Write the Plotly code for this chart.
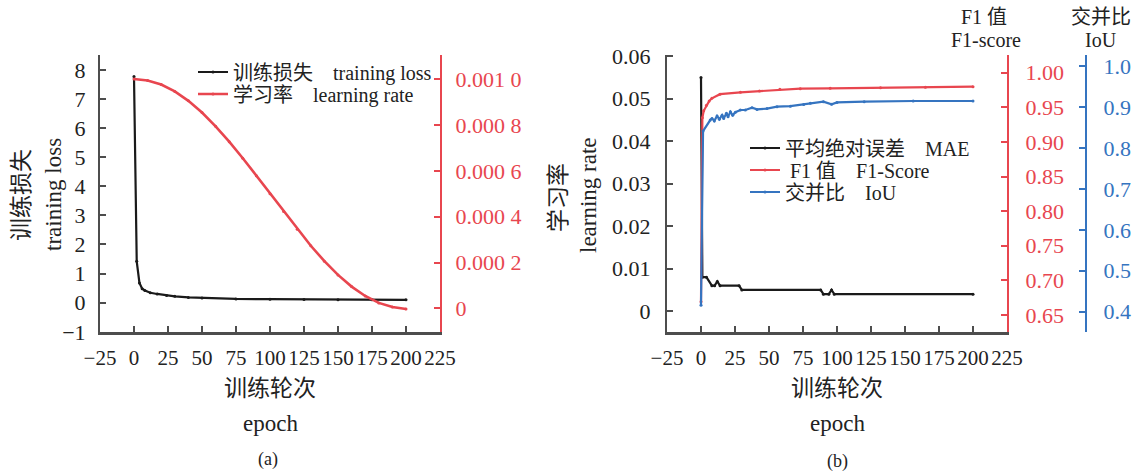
import plotly.graph_objects as go

# ---------------- data (a) ----------------
loss_epoch = [0, 2, 4, 6, 8, 12, 17, 24, 30, 40, 50, 75, 100, 125, 150, 175, 200]
loss_value = [7.77, 1.42, 0.68, 0.48, 0.42, 0.34, 0.30, 0.25, 0.22, 0.18, 0.16, 0.13, 0.12, 0.11, 0.105, 0.10, 0.10]

lr_epoch = [0, 10, 20, 30, 40, 50, 60, 70, 80, 90, 100, 110, 120, 130, 140, 150, 160, 170, 180, 190, 200]
lr_value = [0.001, 0.000994, 0.000976, 0.000946, 0.000905, 0.000854, 0.000794, 0.000727, 0.000655,
            0.000578, 0.0005, 0.000422, 0.000345, 0.000273, 0.000206, 0.000146, 0.000095, 0.000054,
            0.000024, 0.000006, -0.000003]

# ---------------- data (b) ----------------
mae_epoch = [0, 1, 4, 8, 10, 12, 14, 28, 30, 88, 90, 94, 96, 98, 200]
mae_value = [0.055, 0.008, 0.008, 0.006, 0.006, 0.007, 0.006, 0.006, 0.005, 0.005, 0.004, 0.004, 0.005, 0.004, 0.004]

f1_epoch = [0, 1, 2, 4, 6, 8, 14, 29, 43, 58, 73, 95, 132, 165, 200]
f1_value = [0.669, 0.935, 0.945, 0.953, 0.959, 0.963, 0.969, 0.9717, 0.9736, 0.976, 0.977, 0.9775, 0.9783, 0.979, 0.9798]

iou_epoch = [0, 1.5, 6.8, 8.1, 9.8, 11.8, 13.5, 15.5, 16.7, 18.7, 19.9, 21.6, 23.3, 25.3, 28.9, 32.6,
             37.5, 41.2, 48.5, 55.9, 65.7, 75.5, 80.4, 90, 96, 100, 120, 156, 200]
iou_value = [0.416, 0.841, 0.868, 0.872, 0.866, 0.878, 0.870, 0.880, 0.872, 0.8845, 0.876, 0.888, 0.880,
             0.887, 0.8926, 0.8926, 0.898, 0.894, 0.896, 0.9007, 0.902, 0.906, 0.909, 0.9128, 0.9065,
             0.911, 0.9128, 0.9145, 0.9145]

x_ticks = [-25, 0, 25, 50, 75, 100, 125, 150, 175, 200, 225]
loss_ticks = [-1, 0, 1, 2, 3, 4, 5, 6, 7, 8]
lr_ticks = [0, 0.0002, 0.0004, 0.0006, 0.0008, 0.001]
lr_ticktext = ["0", "0.000\u00a02", "0.000\u00a04", "0.000\u00a06", "0.000\u00a08", "0.001\u00a00"]
mae_ticks = [0, 0.01, 0.02, 0.03, 0.04, 0.05, 0.06]
mae_ticktext = ["0", "0.01", "0.02", "0.03", "0.04", "0.05", "0.06"]
f1_ticks = [0.65, 0.70, 0.75, 0.80, 0.85, 0.90, 0.95, 1.00]
f1_ticktext = ["0.65", "0.70", "0.75", "0.80", "0.85", "0.90", "0.95", "1.00"]
iou_ticks = [0.4, 0.5, 0.6, 0.7, 0.8, 0.9, 1.0]
iou_ticktext = ["0.4", "0.5", "0.6", "0.7", "0.8", "0.9", "1.0"]

# ---------------- style ----------------
W, H = 1136, 471
FONT = "Liberation Serif, Noto Sans CJK SC, serif"
BLACK = "#1a1a1a"
TXT = "#222222"
AXC = "#4d4d4d"
RED = "#e8464f"
BLUE = "#3574c0"
SP = "\u00a0\u00a0\u00a0\u00a0"
TS = 22


def px(x):
    return x / W


def py(y):
    return 1 - y / H


ydom = [py(332), py(55)]

fig = go.Figure()

fig.add_trace(go.Scatter(x=loss_epoch, y=loss_value, mode="lines+markers",
                         name="训练损失" + SP + "training loss",
                         line=dict(color=BLACK, width=2.2), marker=dict(size=3, color=BLACK),
                         xaxis="x", yaxis="y", legend="legend"))
fig.add_trace(go.Scatter(x=lr_epoch, y=lr_value, mode="lines+markers",
                         name="学习率" + SP + "learning rate",
                         line=dict(color=RED, width=2.6), marker=dict(size=3, color=RED),
                         xaxis="x", yaxis="y2", legend="legend2"))

fig.add_trace(go.Scatter(x=mae_epoch, y=mae_value, mode="lines+markers",
                         name="平均绝对误差" + SP + "MAE",
                         line=dict(color=BLACK, width=2.2), marker=dict(size=3, color=BLACK),
                         xaxis="x2", yaxis="y3", legend="legend3"))
fig.add_trace(go.Scatter(x=f1_epoch, y=f1_value, mode="lines+markers",
                         name="\u00a0F1 值" + SP + "F1-Score",
                         line=dict(color=RED, width=2.2), marker=dict(size=3, color=RED),
                         xaxis="x2", yaxis="y4", legend="legend4"))
fig.add_trace(go.Scatter(x=iou_epoch, y=iou_value, mode="lines+markers",
                         name="交并比" + SP + "IoU",
                         line=dict(color=BLUE, width=2.2), marker=dict(size=3, color=BLUE),
                         xaxis="x2", yaxis="y5", legend="legend5"))

tickfont = dict(family=FONT, size=TS, color=TXT)
common_x = dict(range=[-25, 225], tickvals=x_ticks, ticks="inside", ticklen=6, tickwidth=1.5,
                tickcolor=AXC, showline=True, linecolor=AXC, linewidth=2.5, showgrid=False,
                zeroline=False, tickfont=dict(family=FONT, size=21, color=TXT), tickangle=0,
                ticklabelstandoff=5, automargin=False)


def leg(xp, yc):
    return dict(x=px(xp), y=py(yc), xanchor="left", yanchor="middle", bgcolor="rgba(0,0,0,0)",
                font=dict(family=FONT, size=20, color=TXT), itemwidth=30)


fig.update_layout(
    width=W, height=H,
    margin=dict(l=0, r=0, t=0, b=0, autoexpand=False),
    paper_bgcolor="white", plot_bgcolor="white",
    font=dict(family=FONT, color=TXT),
    xaxis=dict(domain=[px(100), px(440)], anchor="y", **common_x),
    yaxis=dict(domain=ydom, anchor="x", range=[-1.007, 8.51], tickvals=loss_ticks,
               ticks="inside", ticklen=6, tickwidth=1.5, tickcolor=AXC, showline=True,
               linecolor=AXC, linewidth=2, showgrid=False, zeroline=False, tickfont=tickfont,
               ticklabelstandoff=8, automargin=False),
    yaxis2=dict(domain=ydom, anchor="x", overlaying="y", side="right",
                range=[-0.000103, 0.001105], tickvals=lr_ticks, ticktext=lr_ticktext,
                ticks="inside", ticklen=6, tickwidth=1.5, tickcolor=RED, showline=True,
                linecolor=RED, linewidth=2, showgrid=False, zeroline=False,
                tickfont=dict(family=FONT, size=TS, color=RED), ticklabelstandoff=9,
                automargin=False),
    xaxis2=dict(domain=[px(667), px(1007)], anchor="y3", **common_x),
    yaxis3=dict(domain=ydom, anchor="x2", range=[-0.0049, 0.0603], tickvals=mae_ticks,
                ticktext=mae_ticktext, ticks="inside", ticklen=6, tickwidth=1.5, tickcolor=AXC,
                showline=True, linecolor=AXC, linewidth=2, showgrid=False, zeroline=False,
                tickfont=tickfont, ticklabelstandoff=10, automargin=False),
    yaxis4=dict(domain=ydom, anchor="x2", overlaying="y3", side="right",
                range=[0.6254, 1.0256], tickvals=f1_ticks, ticktext=f1_ticktext,
                ticks="inside", ticklen=6, tickwidth=1.5, tickcolor=RED, showline=True,
                linecolor=RED, linewidth=2, showgrid=False, zeroline=False,
                tickfont=dict(family=FONT, size=TS, color=RED), ticklabelstandoff=12,
                automargin=False),
    yaxis5=dict(domain=ydom, anchor="free", position=px(1086), overlaying="y3", side="right",
                range=[0.3504, 1.0269], tickvals=iou_ticks, ticktext=iou_ticktext,
                ticks="inside", ticklen=6, tickwidth=1.5, tickcolor=BLUE, showline=True,
                linecolor=BLUE, linewidth=2, showgrid=False, zeroline=False,
                tickfont=dict(family=FONT, size=TS, color=BLUE), ticklabelstandoff=12,
                automargin=False),
    legend=leg(193, 72),
    legend2=leg(193, 94),
    legend3=leg(745, 148),
    legend4=leg(745, 170),
    legend5=leg(745, 192),
    showlegend=True,
)

ann = []


def add_text(text, x, y, size, angle=0, color=TXT):
    ann.append(dict(text=text, x=px(x), y=py(y), xref="paper", yref="paper", showarrow=False,
                    xanchor="center", yanchor="middle", textangle=angle,
                    font=dict(family=FONT, size=size, color=color)))


# (a)
add_text("训练损失", 21, 195, 23, -90)
add_text("training loss", 53, 195, 23, -90)
add_text("训练轮次", 270, 388, 23)
add_text("epoch", 270, 423, 23)
add_text("(a)", 268, 459, 18)
# (b)
add_text("学习率", 558, 198, 23, -90)
add_text("learning rate", 588, 195, 23, -90)
add_text("训练轮次", 837, 388, 23)
add_text("epoch", 837, 423, 23)
add_text("(b)", 837, 461, 18)
add_text("F1 值", 984, 17, 20)
add_text("F1-score", 986, 40, 20)
add_text("交并比", 1101, 17, 20)
add_text("IoU", 1101, 40, 20)

fig.update_layout(annotations=ann)

fig.write_html(
    "out.html",
    config={"displayModeBar": False},
    post_script="document.body.style.margin='0';document.body.style.padding='0';"
                "document.body.style.overflow='hidden';",
)
